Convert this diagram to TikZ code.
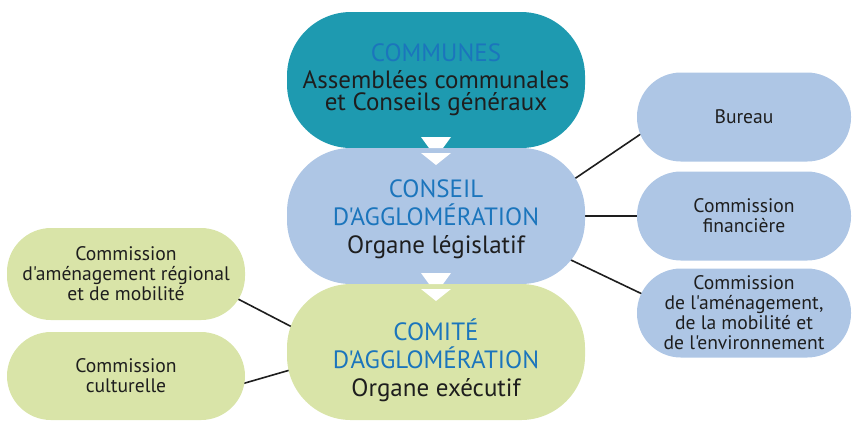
\documentclass[tikz,border=0pt]{standalone}
\usepackage{fontspec}
\setmainfont{PT Sans}[Ligatures=TeXOff]
\usetikzlibrary{positioning}
\pgfdeclarelayer{background}
\pgfsetlayers{background,main}
\definecolor{communesteal}{RGB}{30,154,176}
\definecolor{conseilblue}{RGB}{174,198,229}
\definecolor{comitegreen}{RGB}{217,228,168}
\definecolor{titleblue}{RGB}{27,117,188}
\definecolor{textdark}{RGB}{30,30,30}

\begin{document}
\begin{tikzpicture}
[big/.style={rounded corners=32pt, minimum width=149pt, minimum height=68pt, outer sep=0pt, align=center, text=textdark, font=\fontsize{12.5}{14}\selectfont},
small/.style={rounded corners=22pt, minimum width=107pt, minimum height=44.5pt, outer sep=0pt, align=center, text=textdark, font=\fontsize{9.8}{10}\selectfont},
link/.style={draw=textdark, line width=0.8pt, shorten <=-4pt, shorten >=-4pt}]
\useasboundingbox (0,0) rectangle (427pt,-210pt);

\node[big, fill=communesteal, font=\fontsize{12.5}{11}\selectfont] (communes) at (218pt,-40pt) {\textcolor{titleblue}{COMMUNES}\\[2.5pt] Assemblées communales\\ et Conseils généraux};
\node[big, fill=conseilblue, below=0pt of communes] (conseil) {\rule{0pt}{11.7pt}\textcolor{titleblue}{CONSEIL}\\ \textcolor{titleblue}{D'AGGLOMÉRATION}\\ Organe législatif};
\node[big, fill=comitegreen, below=0pt of conseil] (comite) {\rule{0pt}{18.7pt}\textcolor{titleblue}{COMITÉ}\\ \textcolor{titleblue}{D'AGGLOMÉRATION}\\ Organe exécutif};

\node[small, fill=conseilblue, right=26pt of conseil] (financiere) {Commission\\ financière};
\node[small, fill=conseilblue, above=5pt of financiere] (bureau) {Bureau};
\node[small, fill=conseilblue, below=4pt of financiere] (amenagement) {Commission\\ de l'aménagement,\\ de la mobilité et\\ de l'environnement};

\node[small, fill=comitegreen, minimum width=119pt, minimum height=46pt, left=21pt of comite, yshift=39pt] (regional) {Commission\\ d'aménagement régional\\ et de mobilité};
\node[small, fill=comitegreen, minimum width=119pt, minimum height=44pt, below=6pt of regional] (culturelle) {Commission\\ culturelle};

\foreach \up/\down in {communes/conseil, conseil/comite} {
  \fill[white] ([xshift=-7.5pt,yshift=5.5pt]\up.south) -- ([xshift=7.5pt,yshift=5.5pt]\up.south) -- ([xshift=3.5pt]\up.south) -- ([xshift=-3.5pt]\up.south) -- cycle;
  \fill[white] ([xshift=-7.5pt,yshift=-2.5pt]\down.north) -- ([xshift=7.5pt,yshift=-2.5pt]\down.north) -- ([yshift=-8.5pt]\down.north) -- cycle;
}

\begin{pgfonlayer}{background}
\draw[link] ([xshift=-5pt,yshift=18.75pt]conseil.east) -- ([xshift=1.5pt,yshift=-8.75pt]bureau.west);
\draw[link] (conseil.east) -- (financiere.west);
\draw[link] ([xshift=-6.5pt,yshift=-22.25pt]conseil.east) -- ([xshift=0.5pt,yshift=10.5pt]amenagement.west);
\draw[link] ([xshift=-2.5pt,yshift=-13pt]regional.east) -- ([xshift=3pt,yshift=12.25pt]comite.west);
\draw[link] ([yshift=-3.5pt]culturelle.east) -- ([xshift=1.5pt,yshift=-9pt]comite.west);
\end{pgfonlayer}
\end{tikzpicture}
\end{document}
